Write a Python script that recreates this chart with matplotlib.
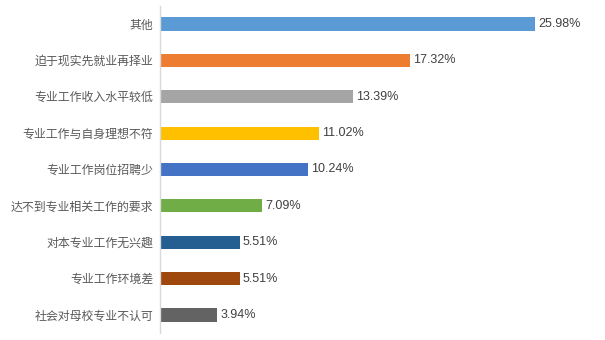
import matplotlib
matplotlib.use("Agg")
import matplotlib.pyplot as plt

plt.rcParams['font.family'] = ['Liberation Sans', 'Noto Sans CJK SC', 'DejaVu Sans']

reasons = ['其他', '迫于现实先就业再择业', '专业工作收入水平较低', '专业工作与自身理想不符',
           '专业工作岗位招聘少', '达不到专业相关工作的要求', '对本专业工作无兴趣',
           '专业工作环境差', '社会对母校专业不认可']
shares = [25.98, 17.32, 13.39, 11.02, 10.24, 7.09, 5.51, 5.51, 3.94]
colors = ['#5B9BD5', '#ED7D31', '#A5A5A5', '#FFC000', '#4472C4',
          '#70AD47', '#255E91', '#9E480E', '#636363']

fig = plt.figure(figsize=(6.05, 3.4), dpi=100)
ax = fig.add_axes([0.2645, 0.02, 0.7157, 0.963])

ypos = list(range(len(reasons)))
ax.barh(ypos, shares, height=0.36, color=colors)
ax.set_ylim(len(reasons) - 0.5, -0.5)
ax.set_xlim(0, 30)

# value labels just right of each bar
for y, v in zip(ypos, shares):
    ax.text(v + 0.22, y, f'{v:.2f}%', va='center', ha='left', fontsize=9, color='#404040')

ax.set_yticks(ypos)
ax.set_yticklabels(reasons, fontsize=8.6, color='#595959')
ax.tick_params(axis='y', length=0, pad=5)
ax.set_xticks([])
for side in ['top', 'right', 'bottom']:
    ax.spines[side].set_visible(False)
ax.spines['left'].set_color('#D9D9D9')
ax.spines['left'].set_linewidth(1)

fig.savefig('out.png', dpi=100)
